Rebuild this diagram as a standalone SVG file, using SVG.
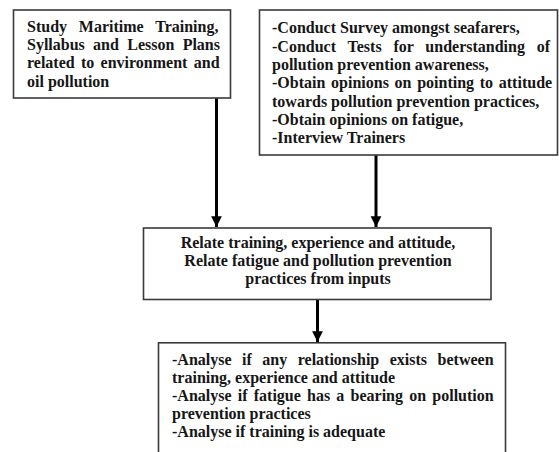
<svg xmlns="http://www.w3.org/2000/svg" width="559" height="452" viewBox="0 0 559 452">
<defs>
<style>
.box{fill:#fff;stroke:#3a3a3a;stroke-width:1.6}
.t{font-family:"Liberation Serif","Times New Roman",serif;font-weight:bold;font-size:16px;fill:#161616}
.c{text-anchor:middle}
.conn{stroke:#000;stroke-width:3;fill:none}
</style>
<marker id="ah" viewBox="0 0 10 10" refX="10" refY="5" markerWidth="3.6" markerHeight="3.8" markerUnits="strokeWidth" orient="auto">
<path d="M0,0 L10,5 L0,10 Z" fill="#000"/>
</marker>
</defs>
<rect width="559" height="452" fill="#fff"/>
<g id="connectors">
<line class="conn" x1="216.5" y1="98" x2="216.5" y2="227" marker-end="url(#ah)"/>
<line class="conn" x1="376" y1="155" x2="376" y2="227" marker-end="url(#ah)"/>
<line class="conn" x1="317.5" y1="300" x2="317.5" y2="342" marker-end="url(#ah)"/>
</g>
<g id="node-study">
<rect class="box" x="13.5" y="10" width="217" height="88"/>
<text class="t"><tspan x="27" y="32" word-spacing="7.8">Study Maritime Training,</tspan><tspan x="27" y="50.2" word-spacing="4.3">Syllabus and Lesson Plans</tspan><tspan x="27" y="68.4" word-spacing="2.3">related to environment and</tspan><tspan x="27" y="86.6">oil pollution</tspan></text>
</g>
<g id="node-survey">
<rect class="box" x="259.5" y="10" width="298" height="145"/>
<text class="t"><tspan x="272" y="33.3">-Conduct Survey amongst seafarers,</tspan><tspan x="272" y="51.6" word-spacing="7.8">-Conduct Tests for understanding of</tspan><tspan x="272" y="69.9">pollution prevention awareness,</tspan><tspan x="272" y="88.2" word-spacing="1.7">-Obtain opinions on pointing to attitude</tspan><tspan x="272" y="106.5">towards pollution prevention practices,</tspan><tspan x="272" y="124.8">-Obtain opinions on fatigue,</tspan><tspan x="272" y="143.1">-Interview Trainers</tspan></text>
</g>
<g id="node-relate">
<rect class="box" x="143.5" y="228" width="347.5" height="71.5"/>
<text class="t c"><tspan x="318" y="248.3">Relate training, experience and attitude,</tspan><tspan x="318" y="266.3">Relate fatigue and pollution prevention</tspan><tspan x="318" y="284.3">practices from inputs</tspan></text>
</g>
<g id="node-analyse">
<rect class="box" x="158.5" y="342.8" width="347" height="120"/>
<text class="t"><tspan x="172" y="365" word-spacing="6.5">-Analyse if any relationship exists between</tspan><tspan x="172" y="383">training, experience and attitude</tspan><tspan x="172" y="401" word-spacing="2.2">-Analyse if fatigue has a bearing on pollution</tspan><tspan x="172" y="419">prevention practices</tspan><tspan x="172" y="437.3">-Analyse if training is adequate</tspan></text>
</g>
</svg>
